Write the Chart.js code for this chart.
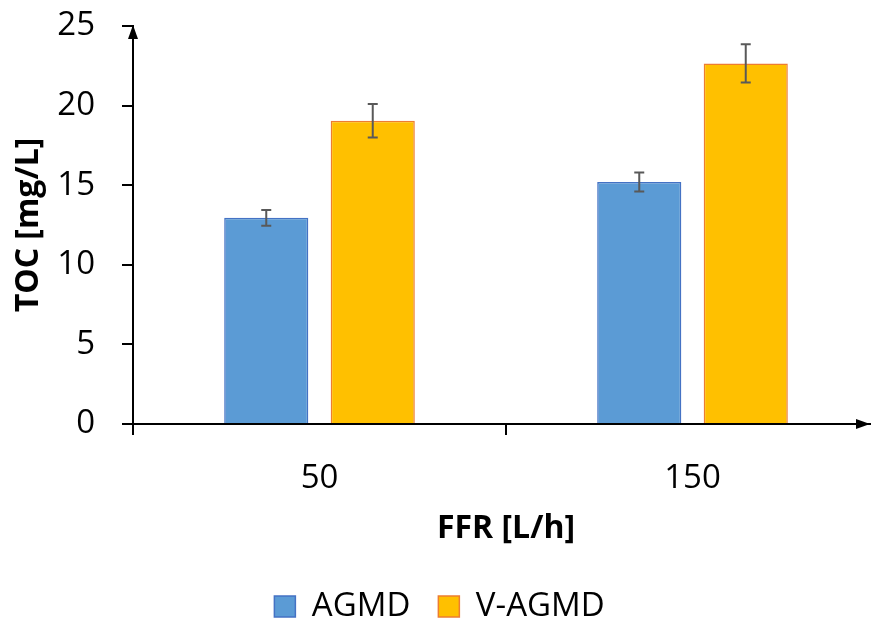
<!DOCTYPE html>
<html lang="en">
<head>
<meta charset="UTF-8">
<title>TOC vs FFR</title>
<script src="https://cdn.jsdelivr.net/npm/chart.js"></script>
<style>
  html, body { margin: 0; padding: 0; overflow: hidden; background: #fff; }
  #wrap { width: 880px; height: 624px; }
</style>
</head>
<body>
<div id="wrap"><canvas id="chart" width="880" height="624"></canvas></div>
<script>
// values
const categories = ['50', '150'];
const agmd = [12.95, 15.2];
const agmdErr = [0.5, 0.6];
const vagmd = [19.05, 22.65];
const vagmdErr = [1.05, 1.2];
const yMin = 0, yMax = 25, yStep = 5;

const font = '"Open Sans", "Noto Sans", sans-serif';

// vertical error bars drawn on top of each bar
const errorBars = {
    id: 'errorBars',
    afterDatasetsDraw(chart) {
        const ctx = chart.ctx;
        const y = chart.scales.y;
        chart.data.datasets.forEach((ds, i) => {
            chart.getDatasetMeta(i).data.forEach((bar, j) => {
                const hi = y.getPixelForValue(ds.data[j] + ds.errors[j]);
                const lo = y.getPixelForValue(ds.data[j] - ds.errors[j]);
                ctx.save();
                ctx.strokeStyle = '#595959';
                ctx.lineWidth = 2;
                ctx.beginPath();
                ctx.moveTo(bar.x, hi); ctx.lineTo(bar.x, lo);
                ctx.moveTo(bar.x - 5, hi); ctx.lineTo(bar.x + 5, hi);
                ctx.moveTo(bar.x - 5, lo); ctx.lineTo(bar.x + 5, lo);
                ctx.stroke();
                ctx.restore();
            });
        });
    }
};

// arrow heads on both axes
const axisArrows = {
    id: 'axisArrows',
    afterDraw(chart) {
        const ctx = chart.ctx;
        const { left, top, bottom } = chart.chartArea;
        const xEnd = window.innerWidth - 1;
        ctx.save();
        ctx.fillStyle = '#000';
        ctx.beginPath();
        ctx.moveTo(left, top - 1);
        ctx.lineTo(left - 5, top + 13);
        ctx.lineTo(left + 5, top + 13);
        ctx.closePath();
        ctx.fill();
        ctx.beginPath();
        ctx.moveTo(xEnd, bottom);
        ctx.lineTo(xEnd - 14, bottom - 5);
        ctx.lineTo(xEnd - 14, bottom + 5);
        ctx.closePath();
        ctx.fill();
        ctx.restore();
    }
};

new Chart(document.getElementById('chart'), {
    type: 'bar',
    data: {
        labels: categories,
        datasets: [
            {
                label: 'AGMD',
                data: agmd,
                errors: agmdErr,
                backgroundColor: '#5B9BD5',
                borderColor: '#4472C4',
                borderWidth: 1.5
            },
            {
                label: 'V-AGMD',
                data: vagmd,
                errors: vagmdErr,
                backgroundColor: '#FFC000',
                borderColor: '#ED7D31',
                borderWidth: 1.5
            }
        ]
    },
    options: {
        responsive: false,
        animation: false,
        categoryPercentage: 0.571,
        barPercentage: 0.79,
        layout: { padding: { top: 26, left: 0, right: 1, bottom: -9 } },
        plugins: {
            tooltip: { enabled: false },
            legend: {
                position: 'bottom',
                labels: {
                    boxWidth: 21,
                    boxHeight: 21,
                    padding: 28,
                    color: '#000',
                    font: { family: font, size: 33 }
                }
            }
        },
        scales: {
            x: {
                grid: {
                    display: true,
                    drawOnChartArea: false,
                    tickLength: 11,
                    color: '#000',
                    lineWidth: 2
                },
                border: { color: '#000', width: 2 },
                ticks: {
                    color: '#000',
                    padding: 24,
                    font: { family: font, size: 33 }
                },
                title: {
                    display: true,
                    text: 'FFR [L/h]',
                    color: '#000',
                    padding: { top: 0, bottom: 14 },
                    font: { family: font, size: 32, weight: 'bold' }
                },
                afterFit(scale) { scale.height = 138; }
            },
            y: {
                min: yMin,
                max: yMax,
                grid: {
                    display: true,
                    drawOnChartArea: false,
                    tickLength: 11,
                    color: '#000',
                    lineWidth: 2
                },
                border: { color: '#000', width: 2 },
                ticks: {
                    stepSize: yStep,
                    color: '#000',
                    padding: 27,
                    font: { family: font, size: 33 }
                },
                title: {
                    display: true,
                    text: 'TOC [mg/L]',
                    color: '#000',
                    padding: { top: 10, bottom: 0 },
                    font: { family: font, size: 32, weight: 'bold' }
                },
                afterFit(scale) {
                    scale.width = 133;
                    scale.paddingTop = 0;
                    scale.paddingBottom = 0;
                }
            }
        }
    },
    plugins: [errorBars, axisArrows]
});
</script>
</body>
</html>
